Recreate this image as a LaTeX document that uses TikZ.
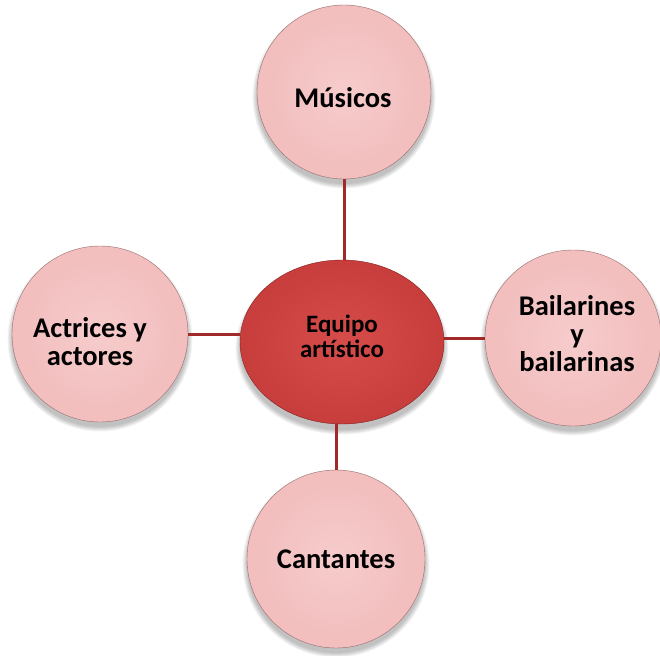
\documentclass[tikz,border=0pt]{standalone}
\usepackage{fontspec}
\setmainfont{Carlito}
\usetikzlibrary{shapes.geometric}

\definecolor{pinkhi}{RGB}{247,204,204}
\definecolor{pinkmid}{RGB}{242,190,190}
\definecolor{pinkedge}{RGB}{226,166,166}
\definecolor{pinkrim}{RGB}{190,136,136}
\definecolor{redhi}{RGB}{214,76,74}
\definecolor{redmid}{RGB}{200,62,60}
\definecolor{rededge}{RGB}{170,44,44}
\definecolor{redrim}{RGB}{130,32,32}
\definecolor{linkcol}{RGB}{160,42,42}

% bevelled fills: flat body, darker band at the rim
\pgfdeclareradialshading{pinkball}{\pgfpoint{0bp}{0bp}}{%
  color(0bp)=(pinkhi); color(22bp)=(pinkmid); color(43bp)=(pinkmid);
  color(48bp)=(pinkedge); color(50bp)=(pinkrim); color(70bp)=(pinkrim)}
\pgfdeclareradialshading{redball}{\pgfpoint{0bp}{0bp}}{%
  color(0bp)=(redhi); color(24bp)=(redmid); color(42bp)=(redmid);
  color(48bp)=(rededge); color(50bp)=(redrim); color(70bp)=(redrim)}

\tikzset{
  outer/.style={circle, minimum size=#1, inner sep=0pt, shading=pinkball,
    draw=pinkrim!80!black, line width=0.4pt},
  hub/.style={ellipse, minimum width=204pt, minimum height=164pt, inner sep=0pt,
    shading=redball, draw=redrim, line width=0.4pt},
  outertext/.style={align=center, inner sep=0pt,
    font=\fontsize{28.5}{28}\selectfont\bfseries},
  hubtext/.style={align=center, inner sep=0pt,
    font=\fontsize{25}{25}\selectfont\bfseries},
  link/.style={draw=linkcol, line width=3pt}
}

\begin{document}
\begin{tikzpicture}[x=1pt,y=-1pt]
  \useasboundingbox (0,0) rectangle (660,655);
  \fill[white] (0,0) rectangle (660,655);

  % soft shadows under every disc
  \foreach \cx/\cy/\r in {344/92/87, 573/338/88, 100/334/88, 336/559/89}{
    \foreach \k in {0,1,2,3,4,5}{
      \fill[black, opacity=0.045] (\cx,\cy+5) circle ({\r+\k*0.9});
    }
  }
  \foreach \k in {0,1,2,3,4,5}{
    \fill[black, opacity=0.045] (342,348) ellipse ({102+\k*0.9} and {82+\k*0.9});
  }

  \node[hub] (hub) at (342,342) {};
  \node[outer=174pt] (mus) at (344,92) {};
  \node[outer=176pt] (bai) at (573,338) {};
  \node[outer=176pt] (act) at (100,334) {};
  \node[outer=178pt] (can) at (336,559) {};

  \node[hubtext] (hubl) at (342,336) {Equipo\\artístico};
  \node[outertext] (musl) at (343,98) {Músicos};
  \node[outertext] (bail) at (577,334) {Bailarines\\y\\bailarinas};
  \node[outertext] (actl) at (90,342) {Actrices y\\actores};
  \node[outertext] (canl) at (336,559) {Cantantes};

  % connectors from the hub to each disc
  \draw[link] (hub.north -| mus.south) -- (mus.south);
  \draw[link] (hub.east |- bai.west) -- (bai.west);
  \draw[link] (hub.west |- act.east) -- (act.east);
  \draw[link] (hub.south -| can.north) -- (can.north);
\end{tikzpicture}
\end{document}
